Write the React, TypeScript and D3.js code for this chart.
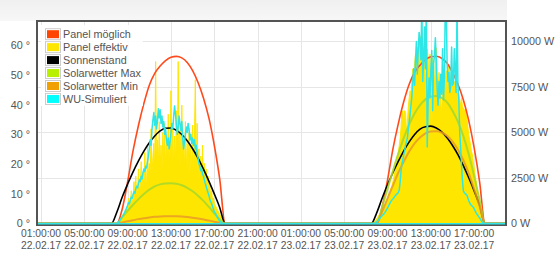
import React from "react";
import * as d3 from "d3";

// ---------- axes / ticks ----------
// x values are hours counted from 22.02.17 00:00
const X_TICKS = [1, 5, 9, 13, 17, 21, 25, 29, 33, 37, 41];
const X_TICK_TIMES = ["01:00:00", "05:00:00", "09:00:00", "13:00:00", "17:00:00", "21:00:00", "01:00:00", "05:00:00", "09:00:00", "13:00:00", "17:00:00"];
const X_TICK_DATES = ["22.02.17", "22.02.17", "22.02.17", "22.02.17", "22.02.17", "22.02.17", "23.02.17", "23.02.17", "23.02.17", "23.02.17", "23.02.17"];
const X_DOMAIN = [0.72, 43.94];
const LEFT_TICKS = [0, 10, 20, 30, 40, 50, 60];
const LEFT_MAX = 67.9;
const RIGHT_TICKS = [0, 2500, 5000, 7500, 10000];
const RIGHT_MAX = 11071;

// ---------- smooth series (30 min grid, hour of day) ----------
const SMOOTH_HOURS = [7.5, 8, 8.5, 9, 9.5, 10, 10.5, 11, 11.5, 12, 12.5, 13, 13.5, 14, 14.5, 15, 15.5, 16, 16.5, 17, 17.5, 18];

const MOEGLICH_D1 = [0, 0, 800, 2300, 4000, 5400, 6600, 7600, 8250, 8650, 8950, 9130, 9180, 9100, 8850, 8400, 7750, 6900, 5800, 4300, 2450, 0];
const MOEGLICH_D2 = [0, 0, 900, 2400, 4100, 5500, 6700, 7650, 8300, 8700, 9000, 9160, 9190, 9080, 8800, 8300, 7650, 6800, 5650, 4150, 2300, 0];

const SONNE_D1 = [0, 3.8, 8.9, 13.3, 17.4, 21.1, 24.4, 27.2, 29.5, 31.2, 32.1, 32.2, 31.4, 30.0, 27.9, 25.2, 22.0, 18.3, 14.3, 10.0, 5.4, 0];
const SONNE_D2 = [0, 3.6, 8.5, 13.0, 17.2, 21.0, 24.5, 27.5, 30.0, 31.8, 32.6, 32.8, 32.2, 30.9, 28.9, 26.3, 23.2, 19.5, 15.4, 11.0, 6.2, 0];

const WETTER_MAX_D1 = [0, 0, 350, 700, 1030, 1340, 1620, 1860, 2040, 2150, 2200, 2210, 2180, 2100, 1960, 1770, 1530, 1240, 910, 560, 230, 0];
const WETTER_MAX_D2 = [0, 0, 900, 1900, 2900, 3850, 4700, 5450, 6050, 6500, 6820, 6980, 7000, 6900, 6650, 6200, 5600, 4800, 3800, 2600, 1300, 0];

const WETTER_MIN_D1 = [0, 0, 60, 120, 180, 240, 290, 330, 365, 390, 400, 405, 400, 385, 355, 315, 270, 220, 160, 100, 40, 0];
const WETTER_MIN_D2 = [0, 0, 650, 1380, 2100, 2800, 3400, 3950, 4400, 4720, 4950, 5060, 5070, 5000, 4820, 4500, 4060, 3480, 2750, 1880, 950, 0];

// ---------- spiky series (5 min samples) ----------
const STEP_5MIN = 5 / 60;
const EFFEKTIV_D1_START = 8; // 08:00
const EFFEKTIV_D1 = [
  0, 50, 120, 200, 280, 350, 420, 500, 560, 650, 720, 800,
  900, 1400, 1000, 1100, 1800, 1200, 1300, 2300, 1400, 2600, 1500, 1700,
  3000, 1800, 2100, 3400, 1900, 2800, 2000, 3900, 2300, 2200, 4200, 2500,
  3300, 2600, 5200, 2800, 3600, 4400, 2700, 8900, 2900, 4600, 2800, 5600,
  3000, 4300, 2800, 5000, 3100, 5500, 2900, 4700, 3000, 6000, 2900, 4500,
  7300, 3100, 5300, 3000, 4800, 3200, 6200, 3100, 8900, 3300, 5100, 3000,
  6500, 3100, 4700, 2900, 5600, 2900, 4400, 2800, 5000, 2700, 4200, 2800,
  5400, 2600, 4600, 7900, 2700, 5500, 2500, 4100, 2400, 3700, 2300, 4300,
  2200, 3300, 2000, 3000, 1850, 2600, 1700, 2100, 1500, 1800, 1300, 1400,
  1100, 1000, 900, 800, 700, 600, 500, 400, 300, 220, 150, 70,
  0,
];
const EFFEKTIV_D2_START = 7 + 40 / 60; // 07:40
const EFFEKTIV_D2 = [
  0, 60, 130, 200,
  270, 340, 420, 500, 580, 650, 740, 830, 920, 1020, 1120, 1230,
  1350, 1500, 1650, 1800, 1950, 2100, 2300, 2550, 2800, 3000, 3250, 3500,
  3900, 4300, 4700, 5300, 6100, 6200, 5600, 6200, 6100, 4900, 5500, 6400,
  6900, 7300, 7000, 7900, 8500, 8200, 8800, 9300, 9000, 9700, 9400, 10200,
  10300, 9800, 10000, 9900, 8400, 9200, 8000, 6000, 9600, 9100, 7100, 9300,
  6500, 4200, 9100, 8200, 7600, 9000, 9650, 8000, 7100, 8300, 7900, 6600,
  6000, 7500, 8190, 7300, 7900, 8400, 7100, 8000, 8740, 8300, 7600, 8000,
  8190, 7500, 7800, 7455, 7000, 7400, 6700, 7090, 6800, 6500, 6900, 6400,
  6360, 6100, 6300, 5990, 5700, 5300, 4890, 4600, 4300, 3950, 3790, 3400,
  3050, 2690, 2350, 2000, 1600, 1227, 1000, 800, 550, 311, 150, 60,
  0,
];
const WU_D1_START = 8;
const WU_D1 = [
  0, 30, 80, 150, 220, 300, 380, 450, 550, 650, 760, 880,
  1000, 1150, 1080, 1300, 1450, 1380, 1600, 1750, 1650, 1900, 2050, 1950,
  2200, 2400, 2300, 2600, 2450, 2800, 3000, 2850, 3150, 3050, 3400, 3700,
  4100, 4600, 4300, 5200, 5700, 6100, 5400, 5900, 5200, 5600, 6300, 5800,
  6250, 5500, 5900, 5300, 5600, 4900, 5200, 4600, 4300, 4700, 4100, 4500,
  5000, 5500, 5200, 5900, 6450, 6000, 5400, 4900, 5300, 5900, 5500, 5100,
  5600, 4700, 4100, 4500, 4900, 5300, 5000, 5500, 5200, 4600, 4900, 4400,
  4700, 4300, 4600, 4100, 4300, 3800, 3600, 3300, 3150, 2900, 3000, 2700,
  2600, 2400, 2200, 2050, 1870, 1700, 1550, 1350, 1200, 1100, 950, 800,
  650, 580, 480, 380, 280, 200, 130, 90, 50, 20, 0, 0,
  0,
];
const WU_D2_START = 7 + 40 / 60;
const WU_D2 = [
  0, 0, 20, 60,
  100, 150, 200, 260, 320, 380, 430, 480, 530, 600, 680, 760,
  850, 950, 1050, 1150, 1230, 1300, 1350, 1420, 1480, 1550, 1600, 1650,
  1700, 1850, 2300, 2900, 3300, 3500, 3800, 4000, 4300, 4500, 4700, 5200,
  5600, 6000, 6500, 7000, 7800, 8500, 7600, 9000, 10000, 8200, 9500, 10500,
  10000, 9000, 12000, 7800, 9000, 10800, 8500, 12000, 4200, 6800, 8000, 6900,
  8400, 9500, 6200, 8800, 9200, 10200, 9000, 7400, 6500, 7800, 6900, 8200,
  7100, 9600, 6800, 8000, 12000, 12000, 8800, 7800, 8300, 7200, 7500, 9700,
  7600, 7700, 9600, 8400, 7200, 12000, 7600, 6800, 5000, 4200, 3200, 2400,
  1800, 1700, 1650, 1600, 1550, 1400, 1250, 1150, 1050, 1000, 950, 900,
  800, 700, 600, 520, 450, 380, 310, 230, 150, 80, 30, 10,
  0,
];

const LEGEND = [
  { name: "Panel möglich", color: "#ff4500" },
  { name: "Panel effektiv", color: "#ffe600" },
  { name: "Sonnenstand", color: "#000000" },
  { name: "Solarwetter Max", color: "#b8f000" },
  { name: "Solarwetter Min", color: "#f0a000" },
  { name: "WU-Simuliert", color: "#00ffff" },
];

type P = [number, number];

const gridPts = (vals: number[], hours: number[], offset: number): P[] =>
  vals.map((v, i) => [hours[i] + offset, v]);
const stepPts = (vals: number[], start: number, offset: number): P[] =>
  vals.map((v, i) => [offset + start + i * STEP_5MIN, v]);
const full = (d1: P[], d2: P[]): P[] => [[X_DOMAIN[0], 0], ...d1, ...d2, [X_DOMAIN[1], 0]];

const FONT = "'Liberation Sans', Arial, sans-serif";

export default function App() {
  const W = 555;
  const H = 256;
  const left = 37, right = 506, top = 21, bottom = 225;
  const x = d3.scaleLinear().domain(X_DOMAIN).range([38, 506]);
  const yL = d3.scaleLinear().domain([0, LEFT_MAX]).range([223.5, 22]);
  const yR = d3.scaleLinear().domain([0, RIGHT_MAX]).range([223.5, 22]);

  const moeglich = full(gridPts(MOEGLICH_D1, SMOOTH_HOURS, 0), gridPts(MOEGLICH_D2, SMOOTH_HOURS, 24));
  const sonne = full(gridPts(SONNE_D1, SMOOTH_HOURS, 0), gridPts(SONNE_D2, SMOOTH_HOURS, 24));
  const wmax = full(gridPts(WETTER_MAX_D1, SMOOTH_HOURS, 0), gridPts(WETTER_MAX_D2, SMOOTH_HOURS, 24));
  const wmin = full(gridPts(WETTER_MIN_D1, SMOOTH_HOURS, 0), gridPts(WETTER_MIN_D2, SMOOTH_HOURS, 24));
  const eff = full(stepPts(EFFEKTIV_D1, EFFEKTIV_D1_START, 0), stepPts(EFFEKTIV_D2, EFFEKTIV_D2_START, 24));
  const wu = full(stepPts(WU_D1, WU_D1_START, 0), stepPts(WU_D2, WU_D2_START, 24));

  const lineR = d3.line<P>().x((d) => x(d[0])).y((d) => yR(d[1]));
  const smoothR = d3.line<P>().x((d) => x(d[0])).y((d) => yR(d[1])).curve(d3.curveMonotoneX);
  const smoothL = d3.line<P>().x((d) => x(d[0])).y((d) => yL(d[1])).curve(d3.curveMonotoneX);
  const areaR = d3.area<P>().x((d) => x(d[0])).y0(yR(0)).y1((d) => yR(d[1]));

  const legendY0 = 34.2;
  const legendDy = 12.95;

  return (
    <svg width={W} height={H} style={{ position: "absolute", left: 0, top: 0, background: "#fff" }} fontFamily={FONT}>
      <defs>
        <clipPath id="plotclip">
          <rect x={left} y={top} width={right - left} height={bottom - top} />
        </clipPath>
        <linearGradient id="band" x1="0" y1="0" x2="0" y2="1">
          <stop offset="0" stopColor="#f0f0f0" />
          <stop offset="1" stopColor="#f7f7f7" />
        </linearGradient>
      </defs>
      <rect x={0} y={0} width={W} height={H} fill="#fff" />
      <rect x={0} y={0} width={right + 1} height={top} fill="url(#band)" />

      {/* grid */}
      <g stroke="#e6e6e6" strokeWidth={1}>
        {X_TICKS.map((t) => (
          <line key={"gx" + t} x1={Math.round(x(t)) + 0.5} x2={Math.round(x(t)) + 0.5} y1={top} y2={bottom} />
        ))}
        {RIGHT_TICKS.filter((v) => v > 0).map((v) => (
          <line key={"gy" + v} x1={left} x2={right} y1={Math.round(yR(v)) + 0.5} y2={Math.round(yR(v)) + 0.5} />
        ))}
      </g>

      <g clipPath="url(#plotclip)" fill="none" strokeLinejoin="round">
        <path d={areaR(eff) || ""} fill="#ffe600" stroke="none" />
        <path d={lineR(eff) || ""} stroke="#ffe600" strokeWidth={1} />
        <path d={smoothR(moeglich) || ""} stroke="#ff4a1c" strokeWidth={1.6} />
        <path d={smoothL(sonne) || ""} stroke="#000" strokeWidth={1.6} />
        <path d={smoothR(wmax) || ""} stroke="#a8d82a" strokeWidth={2} strokeOpacity={0.9} />
        <path d={smoothR(wmin) || ""} stroke="#e89a28" strokeWidth={2} strokeOpacity={0.85} />
        <path d={lineR(wu) || ""} stroke="#2ee6e6" strokeWidth={1.5} />
      </g>

      {/* frame */}
      <rect x={left} y={top} width={right - left} height={bottom - top} fill="none" stroke="#545454" strokeWidth={2} />
      <line x1={left + 1} x2={right - 1} y1={223.8} y2={223.8} stroke="#2ee6e6" strokeWidth={1.4} />

      {/* left axis */}
      <g fontSize={10.8} fill="#545454" textAnchor="end">
        {LEFT_TICKS.map((v) => (
          <text key={"l" + v} x={30} y={yL(v)} dy="0.35em">{v + " °"}</text>
        ))}
      </g>
      {/* right axis */}
      <g fontSize={10.8} fill="#545454" textAnchor="start">
        {RIGHT_TICKS.map((v) => (
          <text key={"r" + v} x={511} y={yR(v)} dy="0.35em">{v + " W"}</text>
        ))}
      </g>
      {/* x axis: two-line tick labels */}
      <g fontSize={10.3} fill="#545454" textAnchor="middle">
        {X_TICKS.map((t, i) => (
          <g key={"x" + t}>
            <text x={x(t)} y={237}>{X_TICK_TIMES[i]}</text>
            <text x={x(t)} y={248.8}>{X_TICK_DATES[i]}</text>
          </g>
        ))}
      </g>

      {/* legend */}
      <rect x={41} y={25} width={102} height={81} fill="#fff" fillOpacity={0.85} />
      {LEGEND.map((l, i) => {
        const cy = legendY0 + i * legendDy;
        return (
          <g key={l.name}>
            <rect x={45.5} y={cy - 5.5} width={15} height={11} fill="#fff" stroke="#ccc" strokeWidth={1} />
            <rect x={47} y={cy - 4} width={12} height={8} fill={l.color} />
            <text x={63} y={cy} dy="0.35em" fontSize={10.8} fill="#545454">{l.name}</text>
          </g>
        );
      })}
    </svg>
  );
}
